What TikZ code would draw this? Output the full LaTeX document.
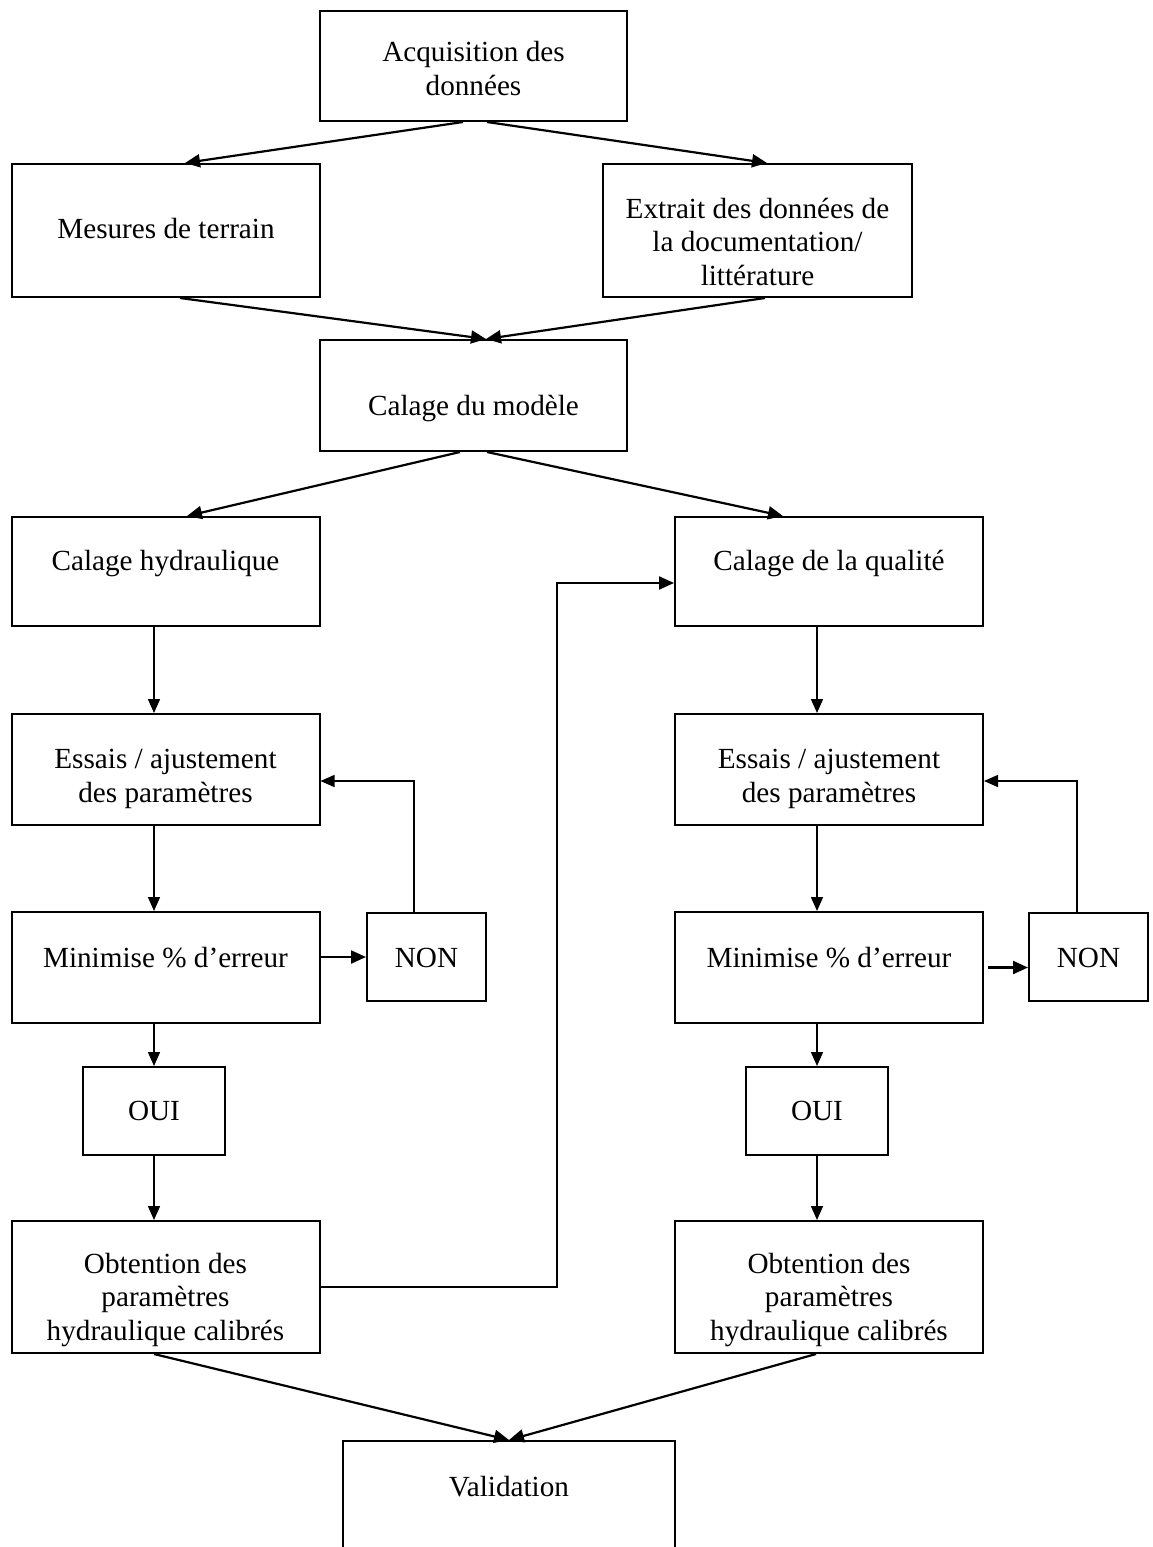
\documentclass[tikz,border=0pt]{standalone}
\usepackage{fontspec}
\setmainfont{Liberation Serif}
\usetikzlibrary{arrows.meta}

\tikzset{
  box/.style={draw, line width=1pt, inner sep=2pt, align=center,
    minimum width=154pt, minimum height=55pt,
    font=\fontsize{14.6pt}{16.75pt}\selectfont},
  small/.style={box, minimum width=59.5pt, minimum height=44pt},
  txt/.style 2 args={text height=#1pt, text depth=#2pt},
  arr/.style={-{Triangle[length=7.5pt,width=6.5pt]}, line width=1.1pt},
  thin/.style={-{Triangle[length=7pt,width=6pt]}, line width=0.75pt},
  loop/.style={line width=0.75pt}
}

\begin{document}
\begin{tikzpicture}[x=0.5pt,y=-0.5pt]

\useasboundingbox (0,0) rectangle (1152,1547);
\clip (0,0) rectangle (1152,1547);

% haut
\node[box, txt={32}{3}, minimum width=153.5pt] (acq) at (473.5,66) {Acquisition des\\donn\'ees};
\node[box, txt={10}{2.5}, minimum height=66.5pt] (mes) at (166,230.5) {Mesures de terrain};
\node[box, txt={57}{2.5}, minimum width=154.5pt, minimum height=66.5pt] (ext) at (757.5,230.5) {Extrait des donn\'ees de\\la documentation/\\litt\'erature};
\node[box, txt={25}{5.5}, minimum width=153.5pt, minimum height=55.5pt] (cal) at (473.5,395.5) {Calage du mod\`ele};

% colonne gauche
\node[box, txt={10}{11.5}, minimum height=54.5pt] (hyd) at (165.5,571.5) {Calage hydraulique};
\node[box, txt={35}{2.5}, minimum height=55.5pt] (essL) at (165.5,769.5) {Essais / ajustement\\des param\`etres};
\node[box, txt={10}{10.5}, minimum height=55.5pt] (minL) at (165.5,967.5) {Minimise \% d’erreur};
\node[small, txt={12}{2}] (nonL) at (426.5,957) {NON};
\node[small, txt={12}{3}, minimum width=71pt] (ouiL) at (154,1111) {OUI};
\node[box, txt={56}{3}, minimum height=66pt] (obtL) at (165.5,1287) {Obtention des\\param\`etres\\hydraulique calibr\'es};

% colonne droite
\node[box, txt={10}{11.5}, minimum height=54.5pt] (qual) at (829,571.5) {Calage de la qualit\'e};
\node[box, txt={35}{2.5}, minimum height=55.5pt] (essR) at (829,769.5) {Essais / ajustement\\des param\`etres};
\node[box, txt={10}{10.5}, minimum height=55.5pt] (minR) at (829,967.5) {Minimise \% d’erreur};
\node[small, txt={12}{2}] (nonR) at (1088.5,957) {NON};
\node[small, txt={12}{3}, minimum width=71pt] (ouiR) at (817,1111) {OUI};
\node[box, txt={56}{3}, minimum height=66pt] (obtR) at (829,1287) {Obtention des\\param\`etres\\hydraulique calibr\'es};

\node[box, anchor=north, txt={25.5}{60}, minimum width=166pt, minimum height=0pt] (val) at (509,1440) {Validation};

\draw[arr] ([xshift=-5.25pt]acq.south) -- ([xshift=9.5pt]mes.north);
\draw[arr] ([xshift=6.75pt]acq.south) -- ([xshift=4.75pt]ext.north);
\draw[arr] ([xshift=7pt]mes.south) -- ([xshift=6.25pt]cal.north);
\draw[arr] ([xshift=3.75pt]ext.south) -- ([xshift=6.25pt]cal.north);
\draw[arr] ([xshift=-6.75pt]cal.south) -- ([xshift=10.75pt]hyd.north);
\draw[arr] ([xshift=6.75pt]cal.south) -- ([xshift=-23pt]qual.north);

\draw[thin] (hyd.south -| ouiL) -- (essL.north -| ouiL);
\draw[thin] (essL.south -| ouiL) -- (minL.north -| ouiL);
\draw[thin] (minL.south -| ouiL) -- (ouiL.north);
\draw[thin] (ouiL.south) -- (obtL.north -| ouiL);
\draw[arr] (minL.east |- nonL.west) -- (nonL.west);
\draw[thin] ([xshift=-6.25pt]nonL.north) |- ([yshift=-5.75pt]essL.east);

\draw[thin] (qual.south -| ouiR) -- (essR.north -| ouiR);
\draw[thin] (essR.south -| ouiR) -- (minR.north -| ouiR);
\draw[thin] (minR.south -| ouiR) -- (ouiR.north);
\draw[thin] (ouiR.south) -- (obtR.north -| ouiR);
\draw[arr] ([xshift=2pt]minR.east) -- (nonR.west |- minR.east);
\draw[thin] ([xshift=-5.75pt]nonR.north) |- ([yshift=-5.75pt]essR.east);

\coordinate (bend) at (557,583);
\draw[arr] (obtL.east) -| (bend) -- (bend -| qual.west);

\draw[arr] ([xshift=-5.75pt]obtL.south) -- (val.north);
\draw[arr] ([xshift=-6.5pt]obtR.south) -- (val.north);

\end{tikzpicture}
\end{document}
